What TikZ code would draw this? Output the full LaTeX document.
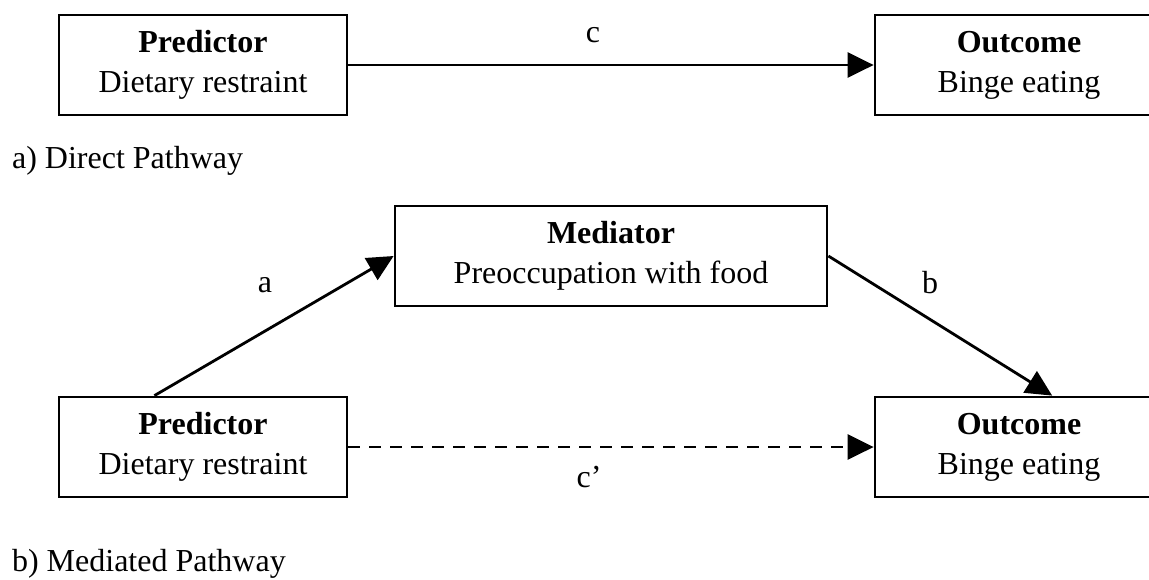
\documentclass[tikz,border=0pt]{standalone}
\usepackage{fontspec}
\setmainfont{Liberation Serif}
\usetikzlibrary{arrows.meta,calc}
\begin{document}
\begin{tikzpicture}[x=0.5pt,y=-0.5pt]
    \tikzstyle{vbox}=[draw,line width=1.4pt,align=center,inner sep=0pt,minimum width=144pt,minimum height=50pt,font=\fontsize{16}{20}\selectfont]
    \tikzstyle{marrs}=[line width=1.4pt,-{Triangle[length=13pt,width=12.5pt]}]
    \tikzstyle{lbl}=[font=\fontsize{16}{20}\selectfont]
    
    \useasboundingbox (0,0) rectangle (1149,579);
    
    % a) direct pathway
    \node[vbox] (pred1) at (203,65) {\textbf{Predictor}\\Dietary restraint};
    \node[vbox] (out1) at (1019,65) {\textbf{Outcome}\\Binge eating};
    \draw[marrs] (pred1) -- (out1);
    \node[lbl] (lc) at (593,35) {c};
    \node[lbl,anchor=base west] (capa) at (5,168) {a) Direct Pathway};
    
    % b) mediated pathway
    \node[vbox,minimum width=216pt] (med) at (611,256) {\textbf{Mediator}\\Preoccupation with food};
    \node[vbox] (pred2) at (203,447) {\textbf{Predictor}\\Dietary restraint};
    \node[vbox] (out2) at (1019,447) {\textbf{Outcome}\\Binge eating};
    
    \draw[marrs] ($(pred2.north west)!0.333!(pred2.north east)$) -- (med.west);
    \draw[marrs] (med.east) -- ($(out2.north west)!0.614!(out2.north east)$);
    \draw[marrs,dash pattern=on 6pt off 4.5pt] (pred2) -- (out2);
    
    \node[lbl] (la) at (265,285) {a};
    \node[lbl] (lb) at (930,283) {b};
    \node[lbl] (lcc) at (589,477) {c’};
    \node[lbl,anchor=base west] (capb) at (5,571) {b) Mediated Pathway};
\end{tikzpicture}
\end{document}
